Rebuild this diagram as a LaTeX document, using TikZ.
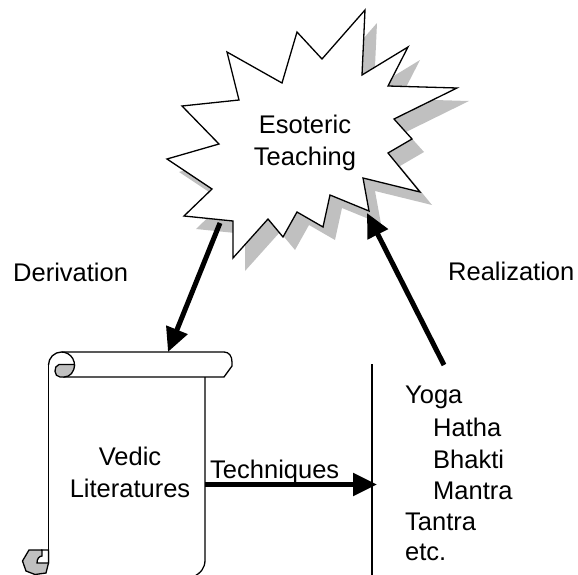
\documentclass[tikz,border=0pt]{standalone}
\usepackage{fontspec}
\setmainfont{Liberation Sans}
\usetikzlibrary{arrows.meta}
\definecolor{shadowgray}{RGB}{192,192,192}
\tikzset{
  txt/.style={font=\fontsize{25.5}{31}\selectfont, inner sep=0pt, text=black},
  outline/.style={draw=black, line width=1.3pt, line join=miter},
  bigarrow/.style={draw=black, line width=5pt, -{Triangle[length=24pt,width=22pt]}},
  thinline/.style={draw=black, line width=1.3pt}
}
\begin{document}
\begin{tikzpicture}[x=1pt,y=-1pt]
\useasboundingbox (0,0) rectangle (578,575);
% star shadow
\fill[shadowgray, shift={(12,13)}]
 (365,10) -- (362,75) -- (408,47) -- (388,86) -- (457,88) -- (394,119) -- (412,139) -- (388,153) -- (420,192) -- (363,178) -- (369,211) -- (330,195) -- (323,227) -- (297,212) -- (283,237) -- (268,219) -- (233,258) -- (233,221) -- (184,216) -- (212,189) -- (167,159) -- (219,144) -- (182,106) -- (239,100) -- (227,52) -- (282,83) -- (297,32) -- (322,59) -- cycle;
% star
\filldraw[outline, fill=white]
 (365,10) -- (362,75) -- (408,47) -- (388,86) -- (457,88) -- (394,119) -- (412,139) -- (388,153) -- (420,192) -- (363,178) -- (369,211) -- (330,195) -- (323,227) -- (297,212) -- (283,237) -- (268,219) -- (233,258) -- (233,221) -- (184,216) -- (212,189) -- (167,159) -- (219,144) -- (182,106) -- (239,100) -- (227,52) -- (282,83) -- (297,32) -- (322,59) -- cycle;
\node[txt, anchor=base] (eso1) at (305,133) {Esoteric};
\node[txt, anchor=base] (eso2) at (305,165.5) {Teaching};

% scroll
\draw[outline] (48.5,365) -- (48.5,563);
\draw[outline] (205,377) -- (205,560) .. controls (205,568) and (201,573) .. (193,577) -- (40,577);
% top bar
\draw[outline] (48.5,365) arc[start angle=180, end angle=270, radius=13] -- (224,352)
  .. controls (229,352) and (232,356) .. (232,362) -- (232,366) -- (224,377) -- (63,377);
\draw[outline] (61.5,352) arc[start angle=270, end angle=365, radius=13];
\filldraw[outline, fill=shadowgray] (74.5,364.5) .. controls (74.5,372) and (70,377) .. (64,377)
  -- (60,377) .. controls (54,377) and (53,366) .. (59,364.5) -- cycle;
% bottom curl
\filldraw[outline, fill=shadowgray] (29,550) -- (41,550) -- (48.5,552) -- (48.5,563) -- (46,573) -- (35,574.5) -- (26,571) -- (22.5,561) -- cycle;
\filldraw[outline, fill=white] (41,550) -- (48.5,550) -- (48.5,563) -- (37,563) .. controls (37,559) and (39,556) .. (42,556) -- (42,550);
\node[txt, anchor=base] (ved1) at (130,465) {Vedic};
\node[txt, anchor=base] (ved2) at (130,497) {Literatures};

% vertical line
\coordinate (vtop) at (372,364);
\coordinate (vbot) at (372,577);
\draw[thinline] (vtop) -- (vbot);

% labels
\node[txt, anchor=base west] (deriv) at (13,281) {Derivation};
\node[txt, anchor=base west] (real) at (448,280) {Realization};
\node[txt, anchor=base west] (tech) at (210,478) {Techniques};

% list
\node[txt, anchor=base west] (yoga) at (405,403) {Yoga};
\node[txt, anchor=base west] (hatha) at (433,436.5) {Hatha};
\node[txt, anchor=base west] (bhakti) at (433,468) {Bhakti};
\node[txt, anchor=base west] (mantra) at (433,499) {Mantra};
\node[txt, anchor=base west] (tantra) at (405,530) {Tantra};
\node[txt, anchor=base west] (etc) at (405,560.5) {etc.};

% arrows
\coordinate (derivS) at (220,223);
\coordinate (scrollTop) at (168,352);
\coordinate (realS) at (444,365);
\coordinate (starB) at (367,213);
\coordinate (scrollR) at (205,484.5);
\coordinate (listL) at (377,484.5);
\draw[bigarrow] (derivS) -- (scrollTop);
\draw[bigarrow] (realS) -- (starB);
\draw[bigarrow] (scrollR) -- (listL);
\end{tikzpicture}
\end{document}
